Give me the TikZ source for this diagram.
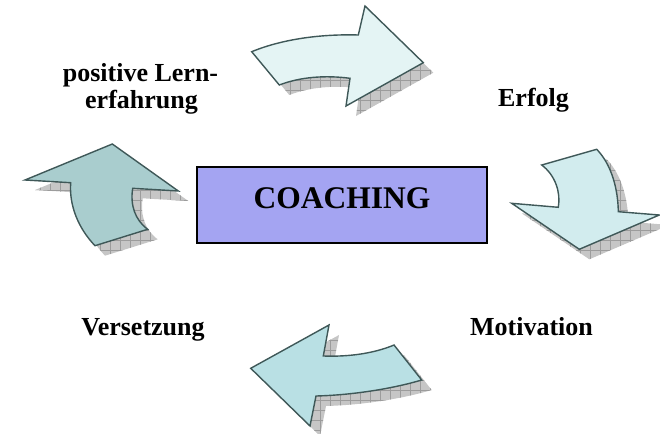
\documentclass[tikz,border=0pt]{standalone}
\usepackage{fontspec}
\setmainfont{Liberation Serif}
\definecolor{edge}{HTML}{3F5858}
\definecolor{aone}{HTML}{E4F4F4}
\definecolor{atwo}{HTML}{D2ECEE}
\definecolor{athree}{HTML}{B9E0E4}
\definecolor{afour}{HTML}{A9CDCE}
\definecolor{boxfill}{HTML}{A4A4F2}
\definecolor{shadowfill}{HTML}{C6C6C6}
\definecolor{shadowgrid}{HTML}{9C9C9C}
\newcommand\blockarrow[2]{%
  \begin{scope}[shift={(10,10)}]
    \clip #2;
    \fill[shadowfill] (-20,-20) rectangle (690,460);
    \draw[shadowgrid, line width=0.5pt, step=10pt] (-20,-20) grid (690,460);
  \end{scope}
  \filldraw[arrowshape, fill=#1] #2;
}
\begin{document}
\begin{tikzpicture}[x=1pt,y=-1pt,
  arrowshape/.style={draw=edge, line width=1.4pt, line join=miter},
  lbl/.style={font=\bfseries\fontsize{26}{27}\selectfont, anchor=base, inner sep=0pt},
  centerbox/.style={draw=black, line width=1.5pt, fill=boxfill, minimum width=290pt,
    minimum height=76pt, inner sep=0pt, text depth=14pt,
    font=\bfseries\fontsize{31.5}{33}\selectfont}]
\useasboundingbox (0,0) rectangle (660,433);

% top arrow (pointing right)
\blockarrow{aone}{(251.7,51.7) .. controls (285,38) and (325,34) .. (358.3,35) -- (365,6) -- (423.3,62.7) -- (346,106) -- (350,78.3) .. controls (325,75) and (300,77) .. (279.3,85) -- cycle}

% right arrow (pointing down)
\blockarrow{atwo}{(541.7,165) -- (596.7,149.3) .. controls (612,165) and (618,190) .. (618.3,211.7) -- (659.3,215) -- (579.3,249.3) -- (511.7,203.3) -- (558.3,207.3) .. controls (561,192) and (555,175) .. (541.7,165) -- cycle}

% bottom arrow (pointing left)
\blockarrow{athree}{(329,325) -- (323.3,356) .. controls (350,357) and (375,353) .. (394,345) -- (421.7,380) .. controls (395,388) and (355,395) .. (316,396) -- (310,426) -- (250.7,368.3) -- cycle}

% left arrow (pointing up)
\blockarrow{afour}{(112.3,144) -- (178.3,191) -- (132.7,188.3) .. controls (130,205) and (135,220) .. (147.7,229.3) -- (95,245.7) .. controls (78,228) and (69,205) .. (70.7,182.7) -- (25,180) -- cycle}

\node[centerbox] (coach) at (342,205) {COACHING};

\node[lbl] (lern1) at (140.5,81.7) {positive Lern-};
\node[lbl] (lern2) at (141.5,108.3) {erfahrung};
\node[lbl] (erfolg) at (533.5,106.7) {Erfolg};
\node[lbl] (vers) at (143,335) {Versetzung};
\node[lbl] (motiv) at (531.5,335) {Motivation};
\end{tikzpicture}
\end{document}
